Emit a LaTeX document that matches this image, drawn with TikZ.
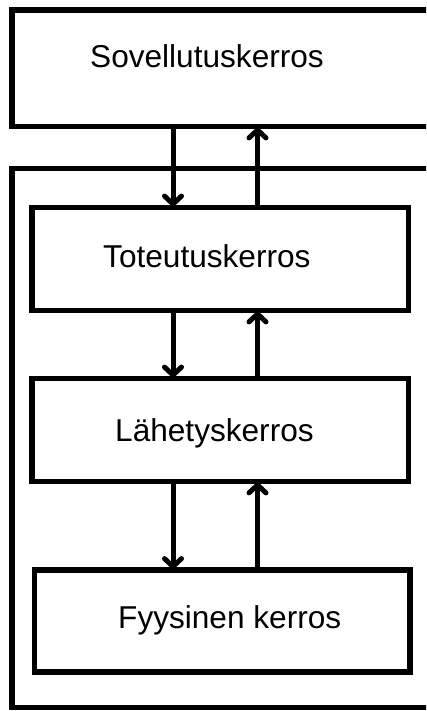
\documentclass[tikz,border=0pt]{standalone}
\usepackage{fontspec}
\setmainfont{Liberation Sans}
\usetikzlibrary{arrows.meta}
\begin{document}
\begin{tikzpicture}[x=1pt,y=-1pt,
  box/.style={draw=black,line width=5.5pt,rectangle,inner sep=0pt,outer sep=0pt},
  lbl/.style={anchor=base west,inner sep=0pt,font=\fontsize{31.6}{36}\selectfont,text=black},
  conn/.style={line width=5pt,-{Straight Barb[length=8pt,width=17pt,line cap=round]}}]
\useasboundingbox (0,0) rectangle (426,711);
\clip (0,0) rectangle (426,711);
\fill[white] (0,0) rectangle (426,711);
\node[box,minimum width=428pt,minimum height=116.5pt] (app) at (226,68.25) {};
\node[box,minimum width=428pt,minimum height=539pt] (outer) at (226,438) {};
\node[box,minimum width=376.5pt,minimum height=103pt] (tot) at (220.25,259) {};
\node[box,minimum width=376.5pt,minimum height=103pt] (lah) at (220.25,430) {};
\node[box,minimum width=375.5pt,minimum height=102pt] (fyy) at (222.25,621) {};
\node[lbl] (tapp) at (90,68) {Sovellutuskerros};
\node[lbl] (ttot) at (103,267) {Toteutuskerros};
\node[lbl] (tlah) at (115,441) {Lähetyskerros};
\node[lbl] (tfyy) at (118,628) {Fyysinen kerros};
\coordinate (dn) at (173,0);
\coordinate (up) at (257.5,0);
\draw[conn] (app.south -| dn) -- (tot.north -| dn);
\draw[conn] (tot.north -| up) -- (app.south -| up);
\draw[conn] (tot.south -| dn) -- (lah.north -| dn);
\draw[conn] (lah.north -| up) -- (tot.south -| up);
\draw[conn] (lah.south -| dn) -- (fyy.north -| dn);
\draw[conn] (fyy.north -| up) -- (lah.south -| up);
\end{tikzpicture}
\end{document}
